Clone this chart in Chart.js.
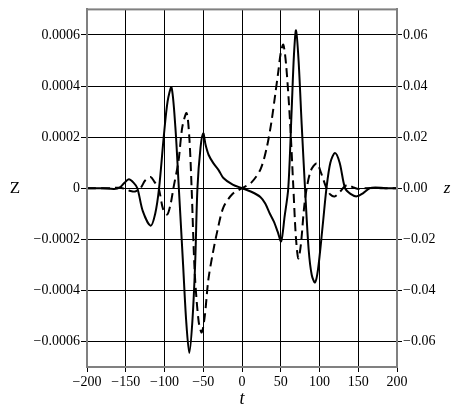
<!DOCTYPE html>
<html>
<head>
<meta charset="utf-8">
<script src="https://cdn.jsdelivr.net/npm/chart.js@4/dist/chart.umd.min.js"></script>
<style>
  html, body { margin: 0; padding: 0; background: #fff; }
  #wrap { width: 462px; height: 418px; }
</style>
</head>
<body>
<div id="wrap"><canvas id="myChart" width="462" height="418"></canvas></div>
<script>
// solid curve, left axis (Z)
const solidT = [-200, -180, -165, -158, -152, -146, -140, -135, -128, -118, -112, -107, -101, -96, -91, -86, -81.5, -76, -72, -68, -64, -60.5, -57.5, -53.5, -50, -47, -43, -37, -30, -24, -12, 0, 12, 24, 30, 36, 41, 46, 50.5, 55, 59.7, 64, 67, 69.7, 73, 77, 81.3, 86, 90, 94.2, 98, 104, 109, 114, 120, 126, 133, 140, 148, 156, 165, 172, 185, 200];
const solidZ = [0, 0, -0.000003, 0.000002, 0.00002, 0.000035, 0.000022, 0, -0.00009, -0.000147, -0.0001, 0, 0.0002, 0.00034, 0.000395, 0.00024, 0, -0.0003, -0.00052, -0.000645, -0.00052, -0.0003, 0, 0.00016, 0.000215, 0.00017, 0.00013, 0.000098, 0.00007, 0.00004, 0.000014, 0, -0.000014, -0.000035, -0.00006, -0.0001, -0.00013, -0.00017, -0.000208, -0.00011, 0, 0.0003, 0.00052, 0.000618, 0.0005, 0.00025, 0, -0.00024, -0.00034, -0.000369, -0.00032, -0.00015, 0, 0.0001, 0.000138, 0.0001, 0, -0.000022, -0.000032, -0.00002, 0, 0.000003, 0, 0];

// dashed curve, right axis (z)
const dashedT = [-200, -170, -158, -150, -144, -138, -131, -125, -118, -113, -107.5, -102, -96.5, -92, -88.5, -82, -77, -71.5, -68, -65, -61, -56, -52, -48, -43.5, -38, -32, -24, -12, 0, 12, 24, 32, 38, 43, 47, 50, 53.3, 57, 62, 66.3, 69.5, 72.7, 76, 80, 83.5, 89, 96.5, 102, 109, 114, 120, 127, 132, 137, 143, 150, 158, 200];
const dashedZ = [0, 0, 0.0002, -0.0004, -0.0011, -0.0013, 0, 0.003, 0.0044, 0.0025, 0, -0.008, -0.0103, -0.006, 0, 0.0105, 0.024, 0.0294, 0.02, 0, -0.033, -0.052, -0.0565, -0.05, -0.036, -0.026, -0.017, -0.0075, -0.0022, 0, 0.0022, 0.0075, 0.016, 0.026, 0.037, 0.046, 0.053, 0.0562, 0.048, 0.026, 0, -0.019, -0.0275, -0.022, -0.008, 0, 0.007, 0.0098, 0.006, 0, -0.0025, -0.0032, -0.0012, 0.0006, 0.0013, 0.0004, -0.0003, 0, 0];

// ticks
const xTicks = [-200, -150, -100, -50, 0, 50, 100, 150, 200];
const xTickLabels = ['\u2212200', '\u2212150', '\u2212100', '\u221250', '0', '50', '100', '150', '200'];
const leftTicks = [-0.0006, -0.0004, -0.0002, 0, 0.0002, 0.0004, 0.0006];
const leftTickLabels = ['\u22120.0006', '\u22120.0004', '\u22120.0002', '0', '0.0002', '0.0004', '0.0006'];
const rightTicks = [-0.06, -0.04, -0.02, 0, 0.02, 0.04, 0.06];
const rightTickLabels = ['\u22120.06', '\u22120.04', '\u22120.02', '0.00', '0.02', '0.04', '0.06'];

const serif = "'Liberation Serif', 'DejaVu Serif', serif";
const tickFont = { family: serif, size: 14 };

const toPoints = (ts, vs) => ts.map((t, i) => ({ x: t, y: vs[i] }));
const labelFor = (ticks, labels) => (v) => {
  const i = ticks.findIndex(t => Math.abs(t - v) < 1e-9);
  return i >= 0 ? labels[i] : '';
};

// axis titles + frame
const extras = {
  id: 'extras',
  afterDraw(chart) {
    const ctx = chart.ctx;
    const a = chart.chartArea;
    ctx.save();
    ctx.strokeStyle = '#808080';
    ctx.lineWidth = 2;
    ctx.strokeRect(a.left, a.top, a.right - a.left, a.bottom - a.top);
    ctx.fillStyle = '#000';
    ctx.textAlign = 'center';
    ctx.textBaseline = 'middle';
    ctx.font = "17px " + serif;
    ctx.fillText('Z', 15, 189);
    ctx.font = "italic 17px " + serif;
    ctx.fillText('z', 447, 189);
    ctx.font = "italic 18px " + serif;
    ctx.fillText('t', 242, 399);
    ctx.restore();
  }
};

new Chart(document.getElementById('myChart').getContext('2d'), {
  type: 'line',
  data: {
    datasets: [
      {
        label: 'solid',
        data: toPoints(solidT, solidZ),
        yAxisID: 'y',
        borderColor: '#000',
        borderWidth: 2,
        pointRadius: 0,
        tension: 0.3,
      },
      {
        label: 'dashed',
        data: toPoints(dashedT, dashedZ),
        yAxisID: 'y2',
        borderColor: '#000',
        borderWidth: 2,
        borderDash: [9, 5],
        pointRadius: 0,
        tension: 0.3,
      },
    ],
  },
  options: {
    responsive: false,
    animation: false,
    layout: { padding: { top: 6, left: 0, right: 0, bottom: 0 } },
    plugins: { legend: { display: false }, tooltip: { enabled: false } },
    scales: {
      x: {
        type: 'linear',
        min: -200,
        max: 200,
        afterFit: (s) => { s.height = 51; },
        afterBuildTicks: (s) => { s.ticks = xTicks.map(v => ({ value: v })); },
        grid: { color: '#000', lineWidth: 1, tickLength: 5 },
        border: { color: '#808080', width: 2 },
        ticks: { color: '#000', font: tickFont, padding: 2, maxRotation: 0, callback: labelFor(xTicks, xTickLabels) },
      },
      y: {
        position: 'left',
        min: -0.0007,
        max: 0.0007,
        afterFit: (s) => { s.width = 87; },
        afterBuildTicks: (s) => { s.ticks = leftTicks.map(v => ({ value: v })); },
        grid: { color: '#000', lineWidth: 1, tickLength: 6 },
        border: { color: '#808080', width: 2 },
        ticks: { color: '#000', font: tickFont, padding: 1, callback: labelFor(leftTicks, leftTickLabels) },
      },
      y2: {
        position: 'right',
        min: -0.07,
        max: 0.07,
        afterFit: (s) => { s.width = 65; },
        afterBuildTicks: (s) => { s.ticks = rightTicks.map(v => ({ value: v })); },
        grid: { drawOnChartArea: false, color: '#000', lineWidth: 1, tickLength: 5 },
        border: { color: '#808080', width: 2 },
        ticks: { color: '#000', font: tickFont, padding: 1, callback: labelFor(rightTicks, rightTickLabels) },
      },
    },
  },
  plugins: [extras],
});
</script>
</body>
</html>
